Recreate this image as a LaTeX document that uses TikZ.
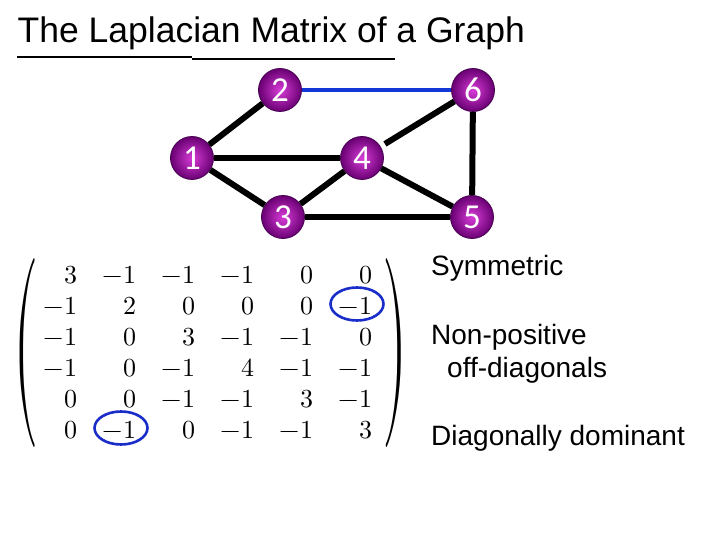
\documentclass[tikz,border=0pt]{standalone}
\usepackage{fontspec}
\usepackage{unicode-math}
\setmainfont{Liberation Sans}
\setmathfont{Latin Modern Math}
\newfontfamily\digitfont{Carlito}
\usetikzlibrary{matrix,shadings}
\definecolor{ballin}{RGB}{215,60,215}
\definecolor{ballout}{RGB}{105,0,115}
\definecolor{ballrim}{RGB}{70,0,80}
\definecolor{edgeblue}{RGB}{20,55,215}
\definecolor{ringblue}{RGB}{25,45,200}
\tikzset{
  vtx/.style={circle, minimum size=43bp, inner sep=0pt, inner color=ballin, outer color=ballout,
    draw=ballrim, line width=0.8bp, text=white, font=\digitfont\fontsize{35bp}{35bp}\selectfont},
  edg/.style={line width=6bp, black},
  bedg/.style={line width=4bp, edgeblue},
  lbl/.style={anchor=base west, inner sep=0pt, font=\fontsize{28bp}{33bp}\selectfont},
  ttl/.style={anchor=base west, inner sep=0pt, font=\fontsize{35.5bp}{40bp}\selectfont},
  ring/.style={draw=ringblue, line width=2.6bp},
  uline/.style={line width=2bp, black},
  delim/.style={inner sep=0pt, xscale=2.5, yscale=7.3, transform shape,
    font=\fontsize{26bp}{26bp}\selectfont}
}
\begin{document}
\begin{tikzpicture}[x=1bp,y=-1bp]
\useasboundingbox[fill=white] (0,0) rectangle (720,540);
% title
\node[ttl] (title) at (17.5,43) {The Laplacian Matrix of a Graph};
\draw[uline] (17,57) -- (192,57);
\draw[uline] (192,58.8) -- (395,58.8);
% graph
\node[vtx] (n2) at (280,90) {2};
\node[vtx] (n6) at (473,90) {6};
\node[vtx] (n1) at (192,158) {1};
\node[vtx] (n4) at (362,158) {4};
\node[vtx] (n3) at (283,217) {3};
\node[vtx] (n5) at (472,217) {5};
\draw[bedg] (n2) -- (n6);
\draw[edg] (n1) -- (n2);
\draw[edg] (n1) -- (n4);
\draw[edg] (n1) -- (n3);
\draw[edg] (n3) -- (n4);
\draw[edg] (n3) -- (n5);
\draw[edg, shorten <=5bp] (n4) -- (n6);
\draw[edg] (n4) -- (n5);
\draw[edg] (n6) -- (n5);
% matrix
\matrix (m) [matrix of math nodes, anchor=north west, inner sep=0pt, outer sep=0pt,
  row sep=8bp, column sep=19bp,
  nodes={text width=40bp, align=right, inner sep=0pt, text height=18bp, text depth=5bp,
    font=\fontsize{26bp}{31bp}\selectfont}]
  at (37,265) {
  3 & -1 & -1 & -1 & 0 & 0 \\
  -1 & 2 & 0 & 0 & 0 & -1 \\
  -1 & 0 & 3 & -1 & -1 & 0 \\
  -1 & 0 & -1 & 4 & -1 & -1 \\
  0 & 0 & -1 & -1 & 3 & -1 \\
  0 & -1 & 0 & -1 & -1 & 3 \\
};
% parentheses
\node[delim] (lp) at (26,353.5) {$($};
\node[delim] (rp) at (395,353.5) {$)$};
\draw[ring] ([xshift=-15bp,yshift=10bp]m-2-6.base east) ellipse [x radius=26.5, y radius=16.5];
\draw[ring] ([xshift=-15bp,yshift=10bp]m-6-2.base east) ellipse [x radius=26.5, y radius=16.5];
% labels
\node[lbl] (sym) at (431,276) {Symmetric};
\node[lbl] (np1) at (431,344) {Non-positive};
\node[lbl] (np2) at (447,377) {off-diagonals};
\node[lbl] (dd) at (431,445) {Diagonally dominant};
\end{tikzpicture}
\end{document}
